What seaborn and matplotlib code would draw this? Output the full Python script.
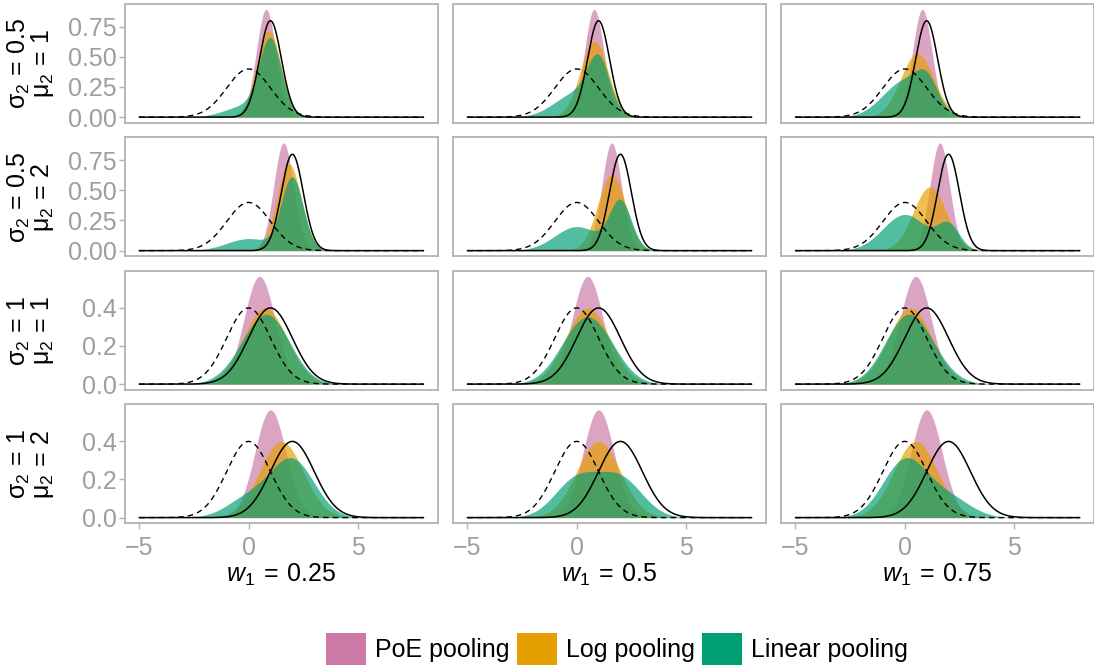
import numpy as np
import pandas as pd
import matplotlib
matplotlib.use("Agg")
import matplotlib.pyplot as plt
from matplotlib.patches import Patch
from matplotlib.ticker import FormatStrFormatter
import seaborn as sns

# ---- data (parameters shown in the facet labels) ----
mu1 = 0.0
sigma1 = 1.0
row_sigma2 = [0.5, 0.5, 1.0, 1.0]
row_mu2 = [1, 2, 1, 2]
row_sigma_labels = ["0.5", "0.5", "1", "1"]
col_w1 = [0.25, 0.5, 0.75]
col_w1_labels = ["0.25", "0.5", "0.75"]
x_min, x_max = -5, 8
methods = ["PoE pooling", "Log pooling", "Linear pooling"]
colors = ["#CC79A7", "#E69F00", "#009E73"]
x_ticks = [-5, 0, 5]
row_yticks = [[0, 0.25, 0.5, 0.75], [0, 0.25, 0.5, 0.75], [0, 0.2, 0.4], [0, 0.2, 0.4]]
row_yfmt = ["%.2f", "%.2f", "%.1f", "%.1f"]


def npdf(x, m, s):
    return np.exp(-0.5 * ((x - m) / s) ** 2) / (np.sqrt(2 * np.pi) * s)


x = np.linspace(x_min, x_max, 1301)
rows = []
for r, (s2, m2) in enumerate(zip(row_sigma2, row_mu2)):
    for c, w in enumerate(col_w1):
        p1 = npdf(x, mu1, sigma1)
        p2 = npdf(x, m2, s2)
        prec = 1 / sigma1**2 + 1 / s2**2
        poe = npdf(x, (mu1 / sigma1**2 + m2 / s2**2) / prec, np.sqrt(1 / prec))
        lprec = w / sigma1**2 + (1 - w) / s2**2
        logp = npdf(x, (w * mu1 / sigma1**2 + (1 - w) * m2 / s2**2) / lprec, np.sqrt(1 / lprec))
        lin = w * p1 + (1 - w) * p2
        rows.append(pd.DataFrame({"row": r, "col": c, "x": x, "p1": p1, "p2": p2,
                                  "PoE pooling": poe, "Log pooling": logp,
                                  "Linear pooling": lin}))
df = pd.concat(rows, ignore_index=True)

sns.set_theme(style="white")
plt.rcParams["font.family"] = ["Liberation Sans", "DejaVu Sans"]
plt.rcParams["mathtext.fontset"] = "custom"
plt.rcParams["mathtext.rm"] = "Liberation Sans"
plt.rcParams["mathtext.it"] = "Liberation Sans:italic"
plt.rcParams["mathtext.sf"] = "Liberation Sans"
plt.rcParams["text.color"] = "black"

W, H = 1094, 666
fig, axes = plt.subplots(4, 3, figsize=(W / 100, H / 100), dpi=100, sharex=True)
fig.subplots_adjust(left=125 / W, right=1.0, top=1 - 4 / H,
                    bottom=1 - 523 / H, wspace=0.049, hspace=0.126)

grey_txt = "#9E9E9E"
border = "#B3B3B3"
fs = 18

for r in range(4):
    sub = df[df.row == r]
    ymax = sub[methods + ["p1", "p2"]].max().max()
    for c in range(3):
        ax = axes[r, c]
        d = sub[sub.col == c]
        for m, col in zip(methods, colors):
            ax.fill_between(d["x"], 0, d[m], color=col, alpha=0.68, lw=0)
        sns.lineplot(data=d, x="x", y="p1", ax=ax, color="black", lw=1.0,
                     linestyle=(0, (4, 3)))
        sns.lineplot(data=d, x="x", y="p2", ax=ax, color="black", lw=1.1)
        span = x_max - x_min
        ax.set_xlim(x_min - 0.05 * span, x_max + 0.05 * span)
        ax.set_ylim(-0.05 * ymax, ymax * 1.05)
        ax.set_xticks(x_ticks)
        ax.set_yticks(row_yticks[r])
        ax.yaxis.set_major_formatter(FormatStrFormatter(row_yfmt[r]))
        for sp in ax.spines.values():
            sp.set_color(border)
            sp.set_linewidth(1.3)
        ax.tick_params(axis="both", which="both", length=4, width=1.0, color=border,
                       labelsize=fs, labelcolor=grey_txt,
                       left=(c == 0), bottom=(r == 3), labelleft=(c == 0))
        ax.tick_params(axis="x", pad=5.5)
        ax.tick_params(axis="y", pad=2)
        ax.set_xlabel("")
        ax.set_ylabel("")
        if r == 3:
            ax.set_xlabel(r"$w_1\:=\:\mathrm{" + col_w1_labels[c] + "}$", fontsize=fs,
                          color="black", labelpad=1)

# row strip labels on the left (two stacked rotated labels per row)
for r in range(4):
    pos = axes[r, 0].get_position()
    yc = (pos.y0 + pos.y1) / 2
    fig.text(19 / W, yc, r"$\mathrm{\sigma}_2\,=\,\mathrm{" + row_sigma_labels[r] + "}$",
             rotation=90, ha="center", va="center", fontsize=fs, color="black")
    fig.text(43 / W, yc, r"$\mathrm{\mu}_2\,=\,\mathrm{" + str(row_mu2[r]) + "}$",
             rotation=90, ha="center", va="center", fontsize=fs, color="black")

handles = [Patch(facecolor=col, edgecolor="none", label=m) for m, col in zip(methods, colors)]
leg = fig.legend(handles=handles, loc="lower center", bbox_to_anchor=(0.564, -0.014), ncol=3,
                 frameon=False, fontsize=fs, handlelength=1.6, handleheight=1.6,
                 handletextpad=0.35, columnspacing=0.3, borderaxespad=0)
for t in leg.get_texts():
    t.set_color("black")

fig.savefig("out.png", dpi=100)
